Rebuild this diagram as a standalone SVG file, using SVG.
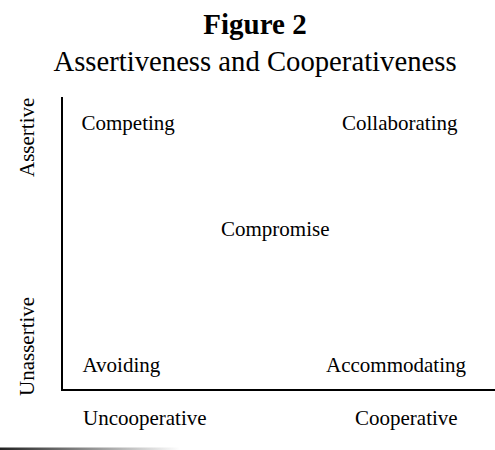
<svg xmlns="http://www.w3.org/2000/svg" width="495" height="450" viewBox="0 0 495 450">
<style>
text{font-family:"Liberation Serif","Times New Roman",serif;fill:#000}
.t{font-size:29px;font-weight:bold;text-anchor:middle}
.s{font-size:28.7px;text-anchor:middle}
.l{font-size:21px}
.axis{stroke:#000;stroke-width:2;fill:none}
</style>
<defs>
<linearGradient id="fade" x1="0" y1="0" x2="1" y2="0">
<stop offset="0" stop-color="#222"/>
<stop offset="1" stop-color="#fff"/>
</linearGradient>
</defs>
<rect width="495" height="450" fill="#fff"/>
<g id="title">
<text class="t" x="255" y="34">Figure 2</text>
<text class="s" x="255" y="71">Assertiveness and Cooperativeness</text>
</g>
<g id="connectors">
<path class="axis" d="M62,97 V390 H495"/>
</g>
<g id="axis-labels">
<text class="l" transform="translate(34,177) rotate(-90)">Assertive</text>
<text class="l" transform="translate(34,396) rotate(-90)">Unassertive</text>
<text class="l" x="83" y="425">Uncooperative</text>
<text class="l" x="355" y="425">Cooperative</text>
</g>
<g id="competing"><text class="l" x="81.5" y="130">Competing</text></g>
<g id="collaborating"><text class="l" x="342" y="130">Collaborating</text></g>
<g id="compromise"><text class="l" x="221" y="236">Compromise</text></g>
<g id="avoiding"><text class="l" x="82.5" y="371.5">Avoiding</text></g>
<g id="accommodating"><text class="l" x="326" y="371.5">Accommodating</text></g>
<rect x="0" y="447.5" width="180" height="2.5" fill="url(#fade)"/>
</svg>
